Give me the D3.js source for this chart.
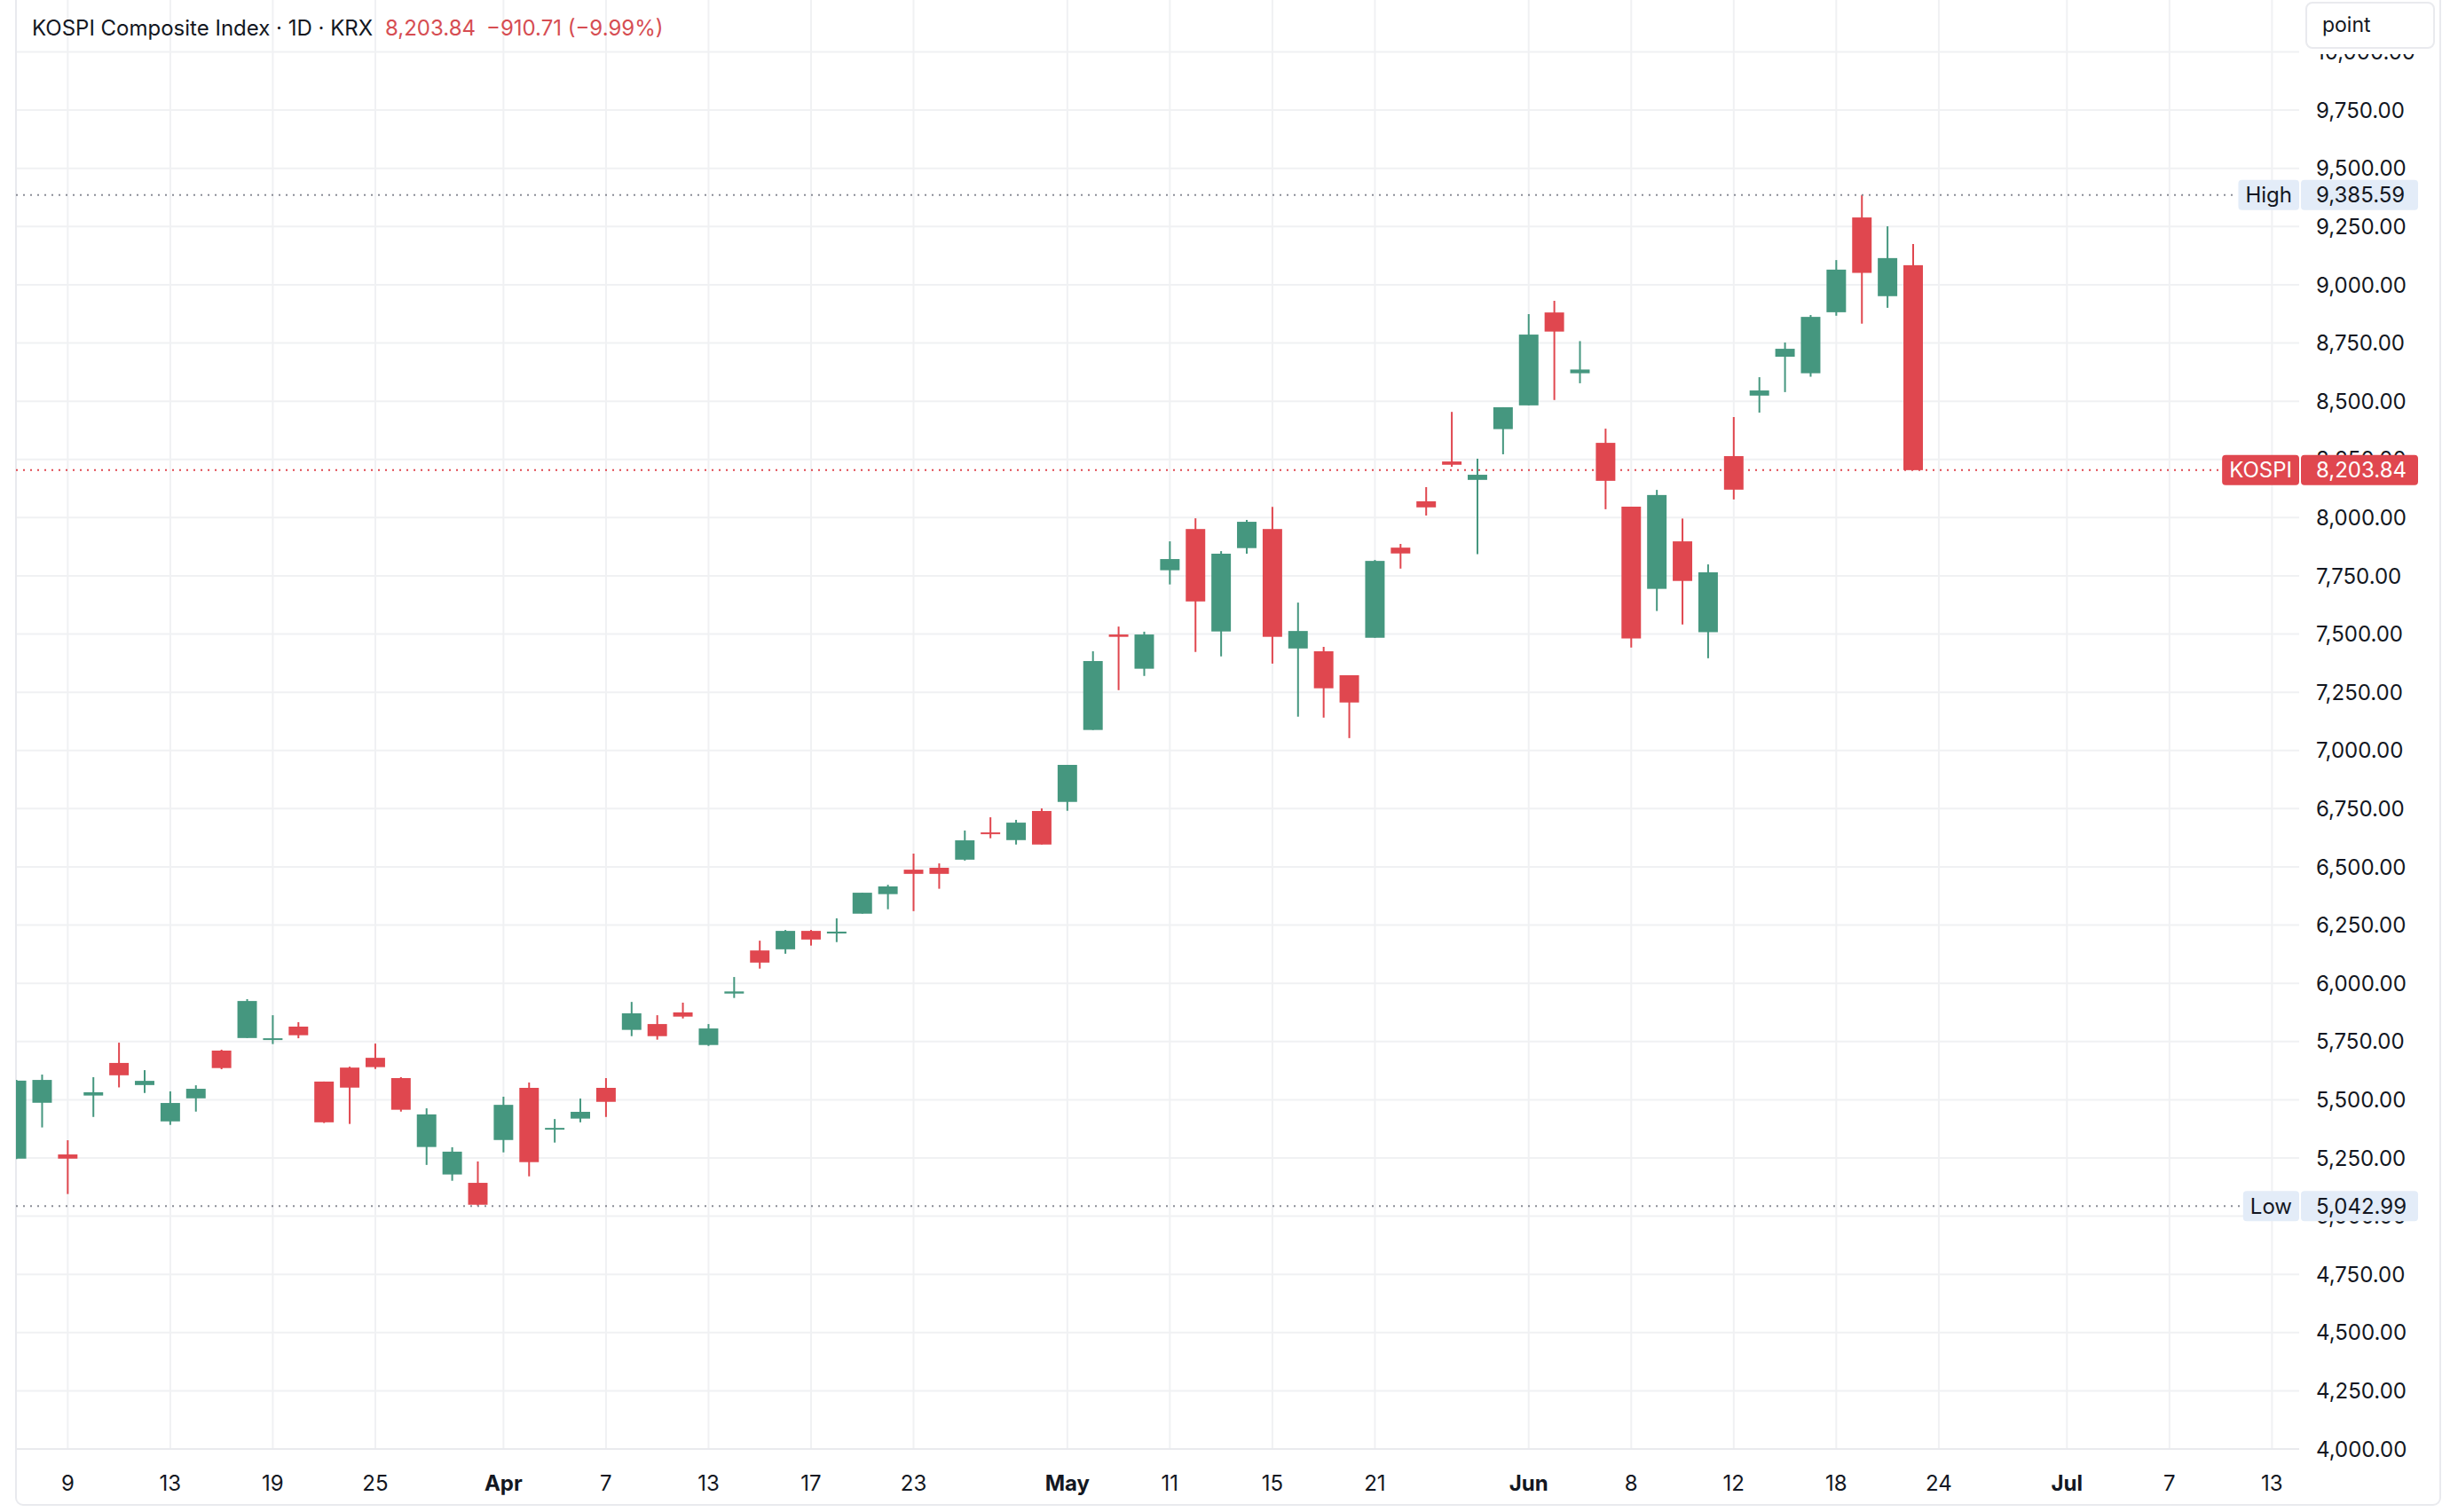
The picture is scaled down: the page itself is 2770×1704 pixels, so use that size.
<!DOCTYPE html>
<html>
<head>
<meta charset="utf-8">
<script src="https://cdn.jsdelivr.net/npm/d3@7"></script>
<style>
body { margin: 0; background: #ffffff; }
svg { display: block; }
</style>
</head>
<body>
<div class="chart"></div>
<script>
// daily candles, first visible bar = index 0
const opens = [5247, 5487, 5265, 5518, 5658, 5563, 5407, 5506, 5711, 5765, 5758, 5814, 5578, 5638, 5680, 5593, 5297, 5179, 5143, 5327,
	5551, 5373, 5419, 5551, 5800, 5825, 5875, 5735, 5956, 6141, 6146, 6225, 6214, 6299, 6383, 6488, 6496, 6531, 6648, 6615,
	6740, 6779, 7088, 7498, 7351, 7774, 7951, 7511, 7869, 7951, 7438, 7426, 7323, 7484, 7871, 8070, 8241, 8162, 8380, 8482,
	8881, 8620, 8321, 8047, 7694, 7898, 7508, 8264, 8524, 8691, 8620, 8882, 9289, 8951, 9084]
const highs = [5585, 5608, 5326, 5597, 5745, 5627, 5536, 5562, 5715, 5932, 5863, 5833, 5578, 5642, 5741, 5597, 5463, 5296, 5235, 5513,
	5574, 5417, 5505, 5593, 5920, 5863, 5917, 5825, 6027, 6183, 6229, 6229, 6279, 6389, 6423, 6557, 6515, 6656, 6713, 6702,
	6751, 6938, 7426, 7532, 7510, 7898, 7997, 7856, 7990, 8046, 7635, 7445, 7323, 7818, 7887, 8131, 8454, 8253, 8474, 8874,
	8931, 8758, 8382, 8047, 8119, 7996, 7799, 8432, 8603, 8752, 8870, 9106, 9385.59, 9251, 9175]
const lows = [5245, 5381, 5095, 5426, 5553, 5529, 5392, 5449, 5631, 5765, 5739, 5764, 5400, 5396, 5632, 5449, 5220, 5152, 5042.99, 5274,
	5171, 5316, 5403, 5426, 5773, 5758, 5849, 5731, 5937, 6063, 6127, 6162, 6177, 6299, 6318, 6310, 6406, 6527, 6623, 6596,
	6596, 6741, 7088, 7259, 7320, 7713, 7423, 7404, 7845, 7373, 7145, 7141, 7053, 7484, 7781, 8009, 8218, 7843, 8272, 8482,
	8505, 8577, 8036, 7442, 7599, 7541, 7396, 8078, 8451, 8539, 8605, 8867, 8833, 8901, 8203.84]
const closes = [5582, 5585, 5247, 5532, 5605, 5581, 5486, 5547, 5636, 5924, 5764, 5777, 5403, 5552, 5640, 5457, 5437, 5277, 5049, 5478,
	5232, 5379, 5448, 5491, 5871, 5773, 5857, 5806, 5965, 6089, 6225, 6188, 6222, 6389, 6416, 6470, 6470, 6614, 6642, 6690,
	6596, 6938, 7384, 7488, 7498, 7822, 7640, 7845, 7982, 7488, 7513, 7267, 7206, 7814, 7846, 8044, 8227, 8184, 8474, 8786,
	8799, 8636, 8158, 7481, 8097, 7728, 7765, 8120, 8546, 8725, 8862, 9065, 9051, 9114.55, 8203.84]

// time axis (bar index -> label)
const tickIndex = [2, 6, 10, 14, 19, 23, 27, 31, 35, 41, 45, 49, 53, 59, 63, 67, 71, 75, 80, 84, 88]
const tickLabels = ["9", "13", "19", "25", "Apr", "7", "13", "17", "23", "May", "11", "15", "21", "Jun", "8", "12", "18", "24", "Jul", "7", "13"]
const monthLabels = ["Apr", "May", "Jun", "Jul"]

const priceTicks = d3.range(4000, 10001, 250)
const highValue = 9385.59
const lowValue = 5042.99
const lastValue = 8203.84
const change = -910.71
const changePct = -9.99

function plot_chart() {
	const width = 2770
	const height = 1704
	const left = 18, right = 2591, bottom = 1633
	const up = "#45977f", down = "#e0474f"
	const grid = "#f0f1f3"
	const font = "Inter, 'Noto Sans', sans-serif"
	const fmt = d3.format(",.2f")

	const candles = opens.map(function (o, i) {
		return { i: i, o: o, h: highs[i], l: lows[i], c: closes[i] }
	})

	const svg = d3.select(".chart").append("svg")
		.attr("width", width)
		.attr("height", height)
		.style("font-family", font)

	const x = d3.scaleLinear().domain([-0.02, 89.06]).range([left, right])
	const y = d3.scaleLinear().domain([4000, 10000]).range([bottom, 58.5])
	const bw = (x(1) - x(0)) * 0.76

	svg.append("defs").append("clipPath").attr("id", "clip")
		.append("rect").attr("x", left).attr("y", 0).attr("width", right - left).attr("height", bottom)

	// grid
	svg.append("g").selectAll("line")
		.data(tickIndex)
		.join("line")
		.attr("x1", d => x(d)).attr("x2", d => x(d))
		.attr("y1", 0).attr("y2", bottom)
		.attr("stroke", grid).attr("stroke-width", 2)

	svg.append("g").selectAll("line")
		.data(priceTicks)
		.join("line")
		.attr("x1", left).attr("x2", right)
		.attr("y1", d => y(d)).attr("y2", d => y(d))
		.attr("stroke", grid).attr("stroke-width", 2)

	// frame
	svg.append("line")
		.attr("x1", left).attr("x2", right).attr("y1", bottom).attr("y2", bottom)
		.attr("stroke", "#e9eaee").attr("stroke-width", 2)
	svg.append("rect")
		.attr("x", left).attr("y", -20).attr("width", 2750 - left).attr("height", 1696 + 20)
		.attr("rx", 8).attr("fill", "none")
		.attr("stroke", "#e9eaee").attr("stroke-width", 2)

	// candles
	const g = svg.append("g").attr("clip-path", "url(#clip)")
	const bars = g.selectAll("g.candle")
		.data(candles)
		.join("g")
		.attr("class", "candle")
		.attr("fill", d => d.c >= d.o ? up : down)
		.attr("stroke", d => d.c >= d.o ? up : down)

	bars.append("line")
		.attr("x1", d => x(d.i)).attr("x2", d => x(d.i))
		.attr("y1", d => y(d.h)).attr("y2", d => y(d.l))
		.attr("stroke-width", 2)

	bars.append("rect")
		.attr("stroke", "none")
		.attr("x", d => x(d.i) - bw / 2)
		.attr("width", bw)
		.attr("y", d => y(Math.max(d.o, d.c)))
		.attr("height", d => Math.max(2, Math.abs(y(d.o) - y(d.c))))

	// dotted price lines
	const lines = [
		{ v: highValue, color: "#8a8d96", end: 2521 },
		{ v: lowValue, color: "#8a8d96", end: 2529 },
		{ v: lastValue, color: down, end: 2503 }
	]
	svg.append("g").selectAll("line")
		.data(lines)
		.join("line")
		.attr("x1", left).attr("x2", d => d.end)
		.attr("y1", d => y(d.v)).attr("y2", d => y(d.v))
		.attr("stroke", d => d.color)
		.attr("stroke-width", 2)
		.attr("stroke-dasharray", "2 6")

	// price axis labels
	svg.append("g").selectAll("text")
		.data(priceTicks)
		.join("text")
		.attr("x", 2610)
		.attr("y", d => y(d))
		.attr("dy", "0.36em")
		.attr("font-size", 24)
		.attr("fill", "#131722")
		.text(d => fmt(d))

	// time axis labels
	svg.append("g").selectAll("text")
		.data(tickIndex)
		.join("text")
		.attr("x", d => x(d))
		.attr("y", 1680)
		.attr("text-anchor", "middle")
		.attr("font-size", 24)
		.attr("font-weight", (d, i) => monthLabels.includes(tickLabels[i]) ? 700 : 400)
		.attr("fill", "#131722")
		.text((d, i) => tickLabels[i])

	// badges on the price axis
	function badge(v, name, fill, color) {
		const cy = y(v)
		const bg = svg.append("g")
		const t = bg.append("text")
			.attr("y", cy).attr("dy", "0.36em")
			.attr("font-size", 24).attr("fill", color)
			.attr("text-anchor", "middle")
			.text(name)
		const w = t.node().getComputedTextLength() + 16
		bg.insert("rect", "text")
			.attr("x", 2591 - w).attr("y", cy - 17)
			.attr("width", w).attr("height", 34)
			.attr("rx", 4).attr("fill", fill)
		t.attr("x", 2591 - w / 2)
		bg.append("rect")
			.attr("x", 2593).attr("y", cy - 17)
			.attr("width", 132).attr("height", 34)
			.attr("rx", 4).attr("fill", fill)
		bg.append("text")
			.attr("x", 2610).attr("y", cy).attr("dy", "0.36em")
			.attr("font-size", 24).attr("fill", color)
			.text(fmt(v))
	}
	badge(highValue, "High", "#e3ecf8", "#131722")
	badge(lowValue, "Low", "#e3ecf8", "#131722")
	badge(lastValue, "KOSPI", down, "#ffffff")

	// header
	svg.append("text")
		.attr("x", 36).attr("y", 40)
		.attr("font-size", 24).attr("fill", "#131722")
		.text("KOSPI Composite Index · 1D · KRX")
	svg.append("text")
		.attr("x", 434).attr("y", 40)
		.attr("font-size", 24).attr("fill", "#d64d52")
		.text(fmt(lastValue))
	svg.append("text")
		.attr("x", 548).attr("y", 40)
		.attr("font-size", 24).attr("fill", "#d64d52")
		.text("−" + fmt(-change) + " (−" + (-changePct).toFixed(2) + "%)")

	// unit box
	svg.append("rect")
		.attr("x", 2594).attr("y", 0).attr("width", 155).attr("height", 61)
		.attr("fill", "#ffffff")
	svg.append("rect")
		.attr("x", 2599).attr("y", 3).attr("width", 144).attr("height", 51)
		.attr("rx", 7).attr("fill", "#ffffff")
		.attr("stroke", "#e9eaee").attr("stroke-width", 2)
	svg.append("text")
		.attr("x", 2617).attr("y", 36)
		.attr("font-size", 23).attr("fill", "#131722")
		.text("point")
}

plot_chart()
</script>
</body>
</html>
